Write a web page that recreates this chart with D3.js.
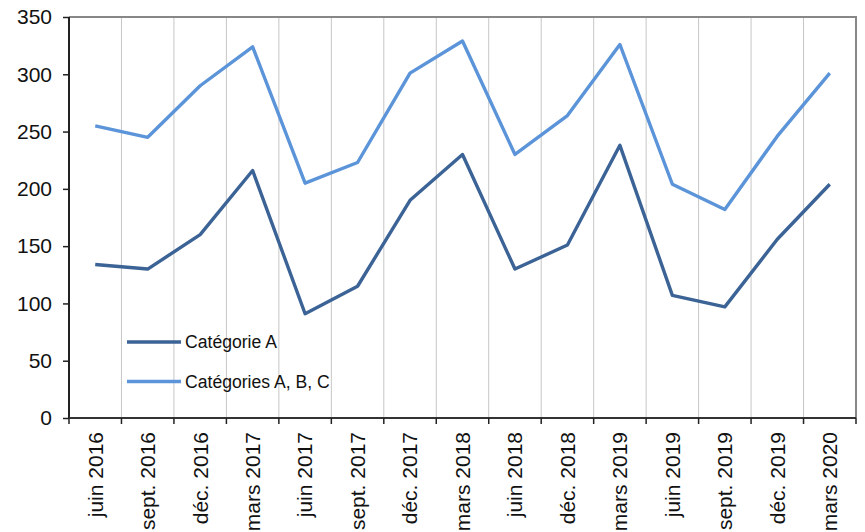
<!DOCTYPE html>
<head>
    <meta charset="utf-8">
    <title>Catégories A, B, C</title>
    <style>
        body { margin: 0; background: #fff; }
        text { font-family: "Liberation Sans", Arial, sans-serif; fill: #111; }
        .y_axis text { font-size: 21px; }
        .x_axis text { font-size: 21px; }
        .legend text { font-size: 17.6px; }
    </style>
    <script src="https://cdn.jsdelivr.net/npm/d3@7"></script>
</head>
<body>
    <script>
        var categories = ["juin 2016", "sept. 2016", "déc. 2016", "mars 2017", "juin 2017",
            "sept. 2017", "déc. 2017", "mars 2018", "juin 2018", "déc. 2018", "mars 2019",
            "juin 2019", "sept. 2019", "déc. 2019", "mars 2020"];
        var categorieA = [134, 130, 160, 216, 91, 115, 190, 230, 130, 151, 238, 107, 97, 156, 204];
        var categoriesABC = [255, 245, 290, 324, 205, 223, 301, 329, 230, 264, 326, 204, 182, 246, 301];
        var yTicks = [0, 50, 100, 150, 200, 250, 300, 350];
        var seriesNames = ["Catégorie A", "Catégories A, B, C"];
        var colors = ["#3b6396", "#5b94d8"];

        var margin = { top: 17, right: 9, bottom: 114, left: 69 },
            width = 865 - margin.left - margin.right,
            height = 532 - margin.top - margin.bottom;

        var svg = d3.select("body")
            .append("svg")
            .attr("width", 865)
            .attr("height", 532);

        var plot = svg.append("g")
            .attr("transform", "translate(" + margin.left + "," + margin.top + ")");

        var x = d3.scaleBand()
            .domain(categories)
            .range([0, width]);

        var y = d3.scaleLinear()
            .domain([0, 350])
            .range([height, 0]);

        // vertical gridlines at category boundaries
        var bounds = d3.range(1, categories.length).map(i => i * x.step());
        plot.append("g").selectAll("line")
            .data(bounds)
            .enter().append("line")
            .attr("x1", d => d).attr("x2", d => d)
            .attr("y1", 0).attr("y2", height)
            .attr("stroke", "#c6c6c6")
            .attr("stroke-width", 1);

        // top & right frame
        plot.append("path")
            .attr("d", "M0,0H" + width + "V" + height)
            .attr("fill", "none")
            .attr("stroke", "#878787")
            .attr("stroke-width", 2);

        // y axis
        var y_axis = plot.append("g")
            .attr("class", "y_axis")
            .call(d3.axisLeft(y).tickValues(yTicks).tickSize(6).tickPadding(11));
        y_axis.select(".domain").attr("stroke", "#222").attr("stroke-width", 2)
            .attr("d", "M0," + height + "V0");
        y_axis.selectAll(".tick line").attr("stroke", "#222").attr("stroke-width", 1.5);

        // x axis: ticks at category boundaries
        var x_axis = plot.append("g")
            .attr("class", "x_axis")
            .attr("transform", "translate(0," + height + ")");
        x_axis.append("line")
            .attr("x1", 0).attr("x2", width)
            .attr("stroke", "#333").attr("stroke-width", 2);
        x_axis.selectAll("line.tk")
            .data(d3.range(0, categories.length + 1).map(i => i * x.step()))
            .enter().append("line")
            .attr("class", "tk")
            .attr("x1", d => d).attr("x2", d => d)
            .attr("y1", 0).attr("y2", 6)
            .attr("stroke", "#222").attr("stroke-width", 1.5);
        x_axis.selectAll("text")
            .data(categories)
            .enter().append("text")
            .attr("transform", d => "translate(" + (x(d) + x.bandwidth() / 2) + ",14) rotate(-90)")
            .attr("dy", "0.35em")
            .style("text-anchor", "end")
            .text(d => d);

        // lines
        var line = d3.line()
            .x((d, i) => x(categories[i]) + x.bandwidth() / 2)
            .y(d => y(d));

        [categorieA, categoriesABC].forEach(function (s, k) {
            plot.append("path")
                .datum(s)
                .attr("d", line)
                .attr("fill", "none")
                .attr("stroke", colors[k])
                .attr("stroke-width", 3.4)
                .attr("stroke-linejoin", "round");
        });

        // legend
        var legend = svg.append("g").attr("class", "legend");
        seriesNames.forEach(function (name, k) {
            var ly = 342 + k * 39.5;
            legend.append("line")
                .attr("x1", 127).attr("x2", 181)
                .attr("y1", ly).attr("y2", ly)
                .attr("stroke", colors[k])
                .attr("stroke-width", 3.4);
            legend.append("text")
                .attr("x", 185)
                .attr("y", ly)
                .attr("dy", "0.35em")
                .text(name);
        });
    </script>
</body>
